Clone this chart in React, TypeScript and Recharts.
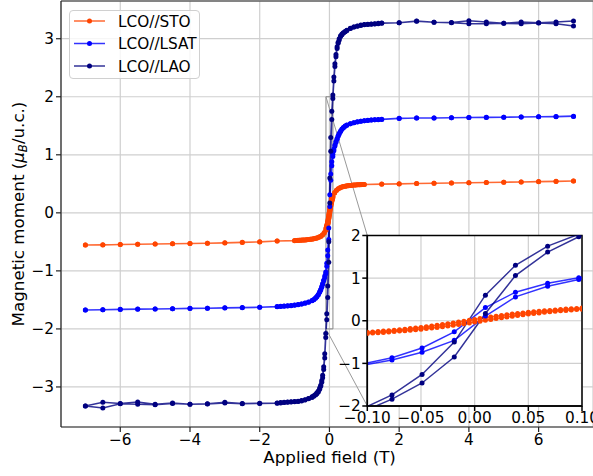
import React from 'react';
import {
  ComposedChart, Line, XAxis, YAxis, CartesianGrid, Label,
  ReferenceArea, ReferenceLine,
} from 'recharts';

// field values (T) for the LAO and LSAT loops
const fieldLoop = [
  -7, -6.5, -6, -5.5, -5, -4.5, -4, -3.5, -3, -2.5, -2,
  -1.5, -1.4, -1.3, -1.2, -1.1, -1, -0.9, -0.8, -0.7, -0.6, -0.5,
  -0.45, -0.4, -0.36, -0.32, -0.28, -0.25, -0.22,
  -0.195, -0.165, -0.135, -0.106, -0.077, -0.049, -0.019,
  0.01, 0.038, 0.068, 0.097, 0.127, 0.157, 0.187,
  0.22, 0.25, 0.28, 0.32, 0.36, 0.4, 0.45,
  0.5, 0.6, 0.7, 0.8, 0.9, 1, 1.1, 1.2, 1.3, 1.4, 1.5,
  2, 2.5, 3, 3.5, 4, 4.5, 5, 5.5, 6, 6.5, 7,
];

// LAO, descending (7 -> -7) and ascending (-7 -> 7) branches, listed by field
const laoDown = [
  -3.327, -3.264, -3.285, -3.258, -3.3, -3.275, -3.3, -3.29, -3.265, -3.285, -3.28,
  -3.275, -3.27, -3.265, -3.26, -3.255, -3.25, -3.245, -3.235, -3.22, -3.2, -3.17,
  -3.15, -3.13, -3.1, -3.07, -3.02, -2.97, -2.89,
  -2.8, -2.65, -2.43, -2.08, -1.74, -1.26, -0.5,
  0.6, 1.3, 1.75, 2.03, 2.34, 2.57, 2.73,
  2.86, 2.94, 3.0, 3.05, 3.08, 3.105, 3.125,
  3.145, 3.18, 3.2, 3.22, 3.235, 3.245, 3.25, 3.255, 3.26, 3.265, 3.27,
  3.276, 3.305, 3.286, 3.28, 3.31, 3.29, 3.265, 3.29, 3.276, 3.29, 3.305,
];
const laoUp = [
  -3.327, -3.362, -3.29, -3.3, -3.305, -3.285, -3.3, -3.295, -3.275, -3.29, -3.285,
  -3.28, -3.275, -3.27, -3.265, -3.26, -3.255, -3.25, -3.24, -3.225, -3.205, -3.18,
  -3.16, -3.14, -3.115, -3.085, -3.04, -2.99, -2.92,
  -2.84, -2.7, -2.5, -2.15, -1.84, -1.46, -0.85,
  0.17, 1.06, 1.61, 1.97, 2.27, 2.52, 2.69,
  2.83, 2.92, 2.98, 3.04, 3.07, 3.1, 3.12,
  3.14, 3.175, 3.2, 3.215, 3.23, 3.24, 3.245, 3.25, 3.255, 3.26, 3.265,
  3.275, 3.3, 3.285, 3.275, 3.26, 3.26, 3.265, 3.26, 3.27, 3.26, 3.22,
];

// LSAT
const lsatDown = [
  -1.674, -1.668, -1.663, -1.657, -1.655, -1.651, -1.646, -1.643, -1.637, -1.631, -1.626,
  -1.615, -1.611, -1.607, -1.602, -1.596, -1.589, -1.58, -1.569, -1.555, -1.537, -1.512,
  -1.493, -1.468, -1.44, -1.405, -1.36, -1.32, -1.27,
  -1.22, -1.16, -1.09, -1.02, -0.87, -0.64, -0.26,
  0.31, 0.67, 0.88, 1.01, 1.1, 1.17, 1.23,
  1.28, 1.33, 1.37, 1.41, 1.445, 1.47, 1.495,
  1.512, 1.536, 1.554, 1.568, 1.579, 1.587, 1.594, 1.6, 1.604, 1.608, 1.612,
  1.628, 1.634, 1.636, 1.64, 1.643, 1.645, 1.649, 1.653, 1.655, 1.659, 1.663,
];
const lsatUp = [
  -1.674, -1.67, -1.665, -1.66, -1.657, -1.653, -1.648, -1.645, -1.64, -1.634, -1.628,
  -1.618, -1.614, -1.61, -1.605, -1.599, -1.592, -1.583, -1.572, -1.558, -1.54, -1.515,
  -1.497, -1.472, -1.445, -1.41, -1.37, -1.33, -1.28,
  -1.23, -1.17, -1.12, -1.05, -0.92, -0.74, -0.46,
  0.11, 0.56, 0.81, 0.97, 1.07, 1.15, 1.21,
  1.27, 1.32, 1.36, 1.4, 1.44, 1.465, 1.49,
  1.51, 1.534, 1.552, 1.566, 1.577, 1.585, 1.592, 1.598, 1.602, 1.606, 1.61,
  1.626, 1.632, 1.635, 1.638, 1.641, 1.644, 1.647, 1.651, 1.654, 1.657, 1.66,
];

// STO was measured on a finer field grid near zero
const fieldSto = [
  -7, -6.5, -6, -5.5, -5, -4.5, -4, -3.5, -3, -2.5, -2, -1.5,
  -1, -0.95, -0.9, -0.85, -0.8, -0.75, -0.7, -0.65, -0.6, -0.55, -0.5, -0.45,
  -0.4, -0.35, -0.3, -0.25, -0.2, -0.15,
  -0.1, -0.095, -0.09, -0.085, -0.08, -0.075, -0.07, -0.065, -0.06, -0.055,
  -0.05, -0.045, -0.04, -0.035, -0.03, -0.025, -0.02, -0.015, -0.01, -0.005,
  0, 0.005, 0.01, 0.015, 0.02, 0.025, 0.03, 0.035, 0.04, 0.045, 0.05,
  0.055, 0.06, 0.065, 0.07, 0.075, 0.08, 0.085, 0.09, 0.095, 0.1,
  0.15, 0.2, 0.25, 0.3, 0.35, 0.4, 0.45, 0.5, 0.55, 0.6, 0.65, 0.7,
  0.75, 0.8, 0.85, 0.9, 0.95, 1,
  1.5, 2, 2.5, 3, 3.5, 4, 4.5, 5, 5.5, 6, 6.5, 7,
];
const stoDown = [
  -0.554, -0.551, -0.545, -0.542, -0.537, -0.534, -0.528, -0.523, -0.517, -0.508, -0.5, -0.485,
  -0.478, -0.476, -0.474, -0.472, -0.47, -0.468, -0.466, -0.463, -0.46, -0.456, -0.452, -0.446,
  -0.439, -0.43, -0.418, -0.403, -0.378, -0.338,
  -0.272, -0.263, -0.253, -0.243, -0.232, -0.221, -0.209, -0.197, -0.184, -0.17,
  -0.156, -0.14, -0.124, -0.107, -0.089, -0.07, -0.05, -0.03, -0.01, 0.01,
  0.03, 0.05, 0.07, 0.089, 0.107, 0.124, 0.14, 0.156, 0.17, 0.184, 0.197,
  0.209, 0.221, 0.232, 0.243, 0.253, 0.263, 0.273, 0.282, 0.29, 0.299,
  0.352, 0.39, 0.415, 0.432, 0.444, 0.453, 0.46, 0.465, 0.469, 0.473, 0.476, 0.479,
  0.481, 0.483, 0.485, 0.487, 0.488, 0.49,
  0.495, 0.5, 0.505, 0.51, 0.515, 0.52, 0.523, 0.528, 0.533, 0.538, 0.543, 0.549,
];
const stoUp = [
  -0.554, -0.552, -0.546, -0.543, -0.538, -0.534, -0.529, -0.524, -0.518, -0.509, -0.501, -0.487,
  -0.479, -0.477, -0.475, -0.473, -0.471, -0.469, -0.467, -0.464, -0.461, -0.457, -0.453, -0.447,
  -0.441, -0.432, -0.421, -0.407, -0.385, -0.35,
  -0.299, -0.29, -0.282, -0.273, -0.263, -0.253, -0.243, -0.232, -0.221, -0.209,
  -0.197, -0.184, -0.17, -0.156, -0.14, -0.124, -0.107, -0.089, -0.07, -0.05,
  -0.03, -0.01, 0.01, 0.03, 0.05, 0.07, 0.089, 0.107, 0.124, 0.14, 0.156,
  0.17, 0.184, 0.197, 0.209, 0.221, 0.232, 0.243, 0.253, 0.263, 0.272,
  0.342, 0.385, 0.412, 0.43, 0.443, 0.452, 0.459, 0.464, 0.468, 0.472, 0.475, 0.478,
  0.48, 0.482, 0.484, 0.486, 0.487, 0.489,
  0.494, 0.499, 0.504, 0.509, 0.514, 0.519, 0.523, 0.527, 0.532, 0.537, 0.542, 0.548,
];

const mainXTicks = [-6, -4, -2, 0, 2, 4, 6];
const mainYTicks = [-3, -2, -1, 0, 1, 2, 3];
const insetXTicks = [-0.1, -0.05, 0, 0.05, 0.1];
const insetYTicks = [-2, -1, 0, 1, 2];

const FONT = '"DejaVu Sans", sans-serif';
const W = 593;
const H = 476;

// main axes frame
const X_MIN = -7.7;
const X_MAX = 7.56;
const Y_MIN = -3.69;
const Y_MAX = 3.65;
const PLOT_L = 61;
const PLOT_T = 1;
const PLOT_B = 427;

// inset frame (page pixels)
const IN_L = 367.3;
const IN_T = 235.5;
const IN_R = 582;
const IN_B = 406;
const IN_SVG_L = 310;
const IN_SVG_T = 225;
const IN_SVG_W = 283;
const IN_SVG_H = 215;

const pxToX = (px: number) => X_MIN + ((px - PLOT_L) / (W - PLOT_L)) * (X_MAX - X_MIN);
const pxToY = (py: number) => Y_MAX - ((py - PLOT_T) / (PLOT_B - PLOT_T)) * (Y_MAX - Y_MIN);

const loop = (h: number[], down: number[], up: number[]) => {
  const d = h.map((x, i) => ({ x, y: down[i] })).reverse();
  const u = h.map((x, i) => ({ x, y: up[i] }));
  return d.concat(u);
};

const series = [
  { name: 'LCO//STO', color: '#ff4500', data: loop(fieldSto, stoDown, stoUp) },
  { name: 'LCO//LSAT', color: '#0000ff', data: loop(fieldLoop, lsatDown, lsatUp) },
  { name: 'LCO//LAO', color: '#000080', data: loop(fieldLoop, laoDown, laoUp) },
];

const minus = (s: string) => s.replace('-', '\u2212');
const tickStyle = { fill: '#000', fontSize: 15.3, fontFamily: FONT };

const renderLines = () =>
  series.map((s) => (
    <Line
      key={s.name}
      data={s.data}
      dataKey="y"
      type="linear"
      stroke={s.color}
      strokeOpacity={0.8}
      strokeWidth={1.5}
      dot={{ r: 2.5, fill: s.color, stroke: s.color, strokeWidth: 0, fillOpacity: 1 }}
      activeDot={false}
      isAnimationActive={false}
    />
  ));

const XLabel = () => (
  <text x={329.6} y={463} textAnchor="middle" fontFamily={FONT} fontSize={16.7} fill="#000">
    Applied field (T)
  </text>
);

const YLabel = () => (
  <text
    transform={`translate(23.5, ${(PLOT_T + PLOT_B) / 2}) rotate(-90)`}
    textAnchor="middle"
    fontFamily={FONT}
    fontSize={16.7}
    fill="#000"
  >
    Magnetic moment (<tspan fontStyle="italic">μ</tspan>
    <tspan fontStyle="italic" fontSize={11.7} dy={3}>B</tspan>
    <tspan dy={-3}>/u.c.)</tspan>
  </text>
);

const Legend = () => (
  <div
    style={{
      position: 'absolute', left: 69, top: 10, width: 131, height: 69,
      boxSizing: 'border-box', border: '1px solid #d0d0d0', borderRadius: 4,
      background: 'rgba(255,255,255,0.8)',
    }}
  >
    <svg width={131} height={69} style={{ position: 'absolute', left: -1, top: -1 }}>
      {series.map((s, i) => {
        const cy = 11 + i * 22.5;
        return (
          <g key={s.name}>
            <line x1={5} x2={36} y1={cy} y2={cy} stroke={s.color} strokeOpacity={0.8} strokeWidth={1.5} />
            <circle cx={20.5} cy={cy} r={2.5} fill={s.color} />
            <text x={49} y={cy + 5.5} fontFamily={FONT} fontSize={15.3} fill="#000">{s.name}</text>
          </g>
        );
      })}
    </svg>
  </div>
);

export default function App() {
  return (
    <div style={{ position: 'absolute', left: 0, top: 0, width: W, height: H, background: '#fff', fontFamily: FONT }}>
      <div style={{ position: 'absolute', left: 0, top: 0 }}>
        <ComposedChart width={W} height={H} margin={{ top: PLOT_T, right: 0, bottom: 0, left: 0 }}>
          <CartesianGrid stroke="#cfcfcf" strokeWidth={1.2} />
          <XAxis
            type="number" dataKey="x" domain={[X_MIN, X_MAX]} ticks={mainXTicks} interval={0}
            allowDataOverflow height={H - PLOT_B} tickSize={5} tickMargin={2}
            stroke="#222" strokeWidth={1.2} tick={tickStyle}
            tickFormatter={(v: number) => minus(String(v))}
          >
            <Label content={XLabel} />
          </XAxis>
          <YAxis
            type="number" domain={[Y_MIN, Y_MAX]} ticks={mainYTicks} interval={0}
            allowDataOverflow width={PLOT_L} tickSize={5} tickMargin={2}
            stroke="#222" strokeWidth={1.2} tick={tickStyle}
            tickFormatter={(v: number) => minus(String(v))}
          >
            <Label content={YLabel} />
          </YAxis>
          {renderLines()}
          <ReferenceLine y={Y_MAX} stroke="#222" strokeWidth={1.2} />
          <ReferenceArea x1={-0.1} x2={0.1} y1={-2} y2={2} fill="none" stroke="#888" strokeWidth={1} />
          <ReferenceLine segment={[{ x: -0.1, y: 2 }, { x: pxToX(IN_L), y: pxToY(IN_T) }]} stroke="#999" strokeWidth={1} />
          <ReferenceLine segment={[{ x: -0.1, y: -2 }, { x: pxToX(IN_L), y: pxToY(IN_B) }]} stroke="#999" strokeWidth={1} />
        </ComposedChart>
      </div>
      <div style={{ position: 'absolute', left: IN_SVG_L, top: IN_SVG_T }}>
        <ComposedChart
          width={IN_SVG_W}
          height={IN_SVG_H}
          margin={{ top: IN_T - IN_SVG_T, right: IN_SVG_L + IN_SVG_W - IN_R, bottom: 0, left: 0 }}
        >
          <CartesianGrid stroke="#cfcfcf" strokeWidth={1.2} fill="#fff" fillOpacity={1} />
          <XAxis
            type="number" dataKey="x" domain={[-0.1, 0.1]} ticks={insetXTicks} interval={0}
            allowDataOverflow height={IN_SVG_T + IN_SVG_H - IN_B} tickSize={5} tickMargin={1.5}
            stroke="#000" strokeWidth={1.5} tick={tickStyle}
            tickFormatter={(v: number) => minus(v.toFixed(2))}
          />
          <YAxis
            type="number" domain={[-2, 2]} ticks={insetYTicks} interval={0}
            allowDataOverflow width={IN_L - IN_SVG_L} tickSize={5} tickMargin={1.5}
            stroke="#000" strokeWidth={1.5} tick={tickStyle}
            tickFormatter={(v: number) => minus(String(v))}
          />
          {renderLines()}
          <ReferenceArea x1={-0.1} x2={0.1} y1={-2} y2={2} fill="none" stroke="#000" strokeWidth={1.5} />
        </ComposedChart>
      </div>
      <Legend />
    </div>
  );
}
